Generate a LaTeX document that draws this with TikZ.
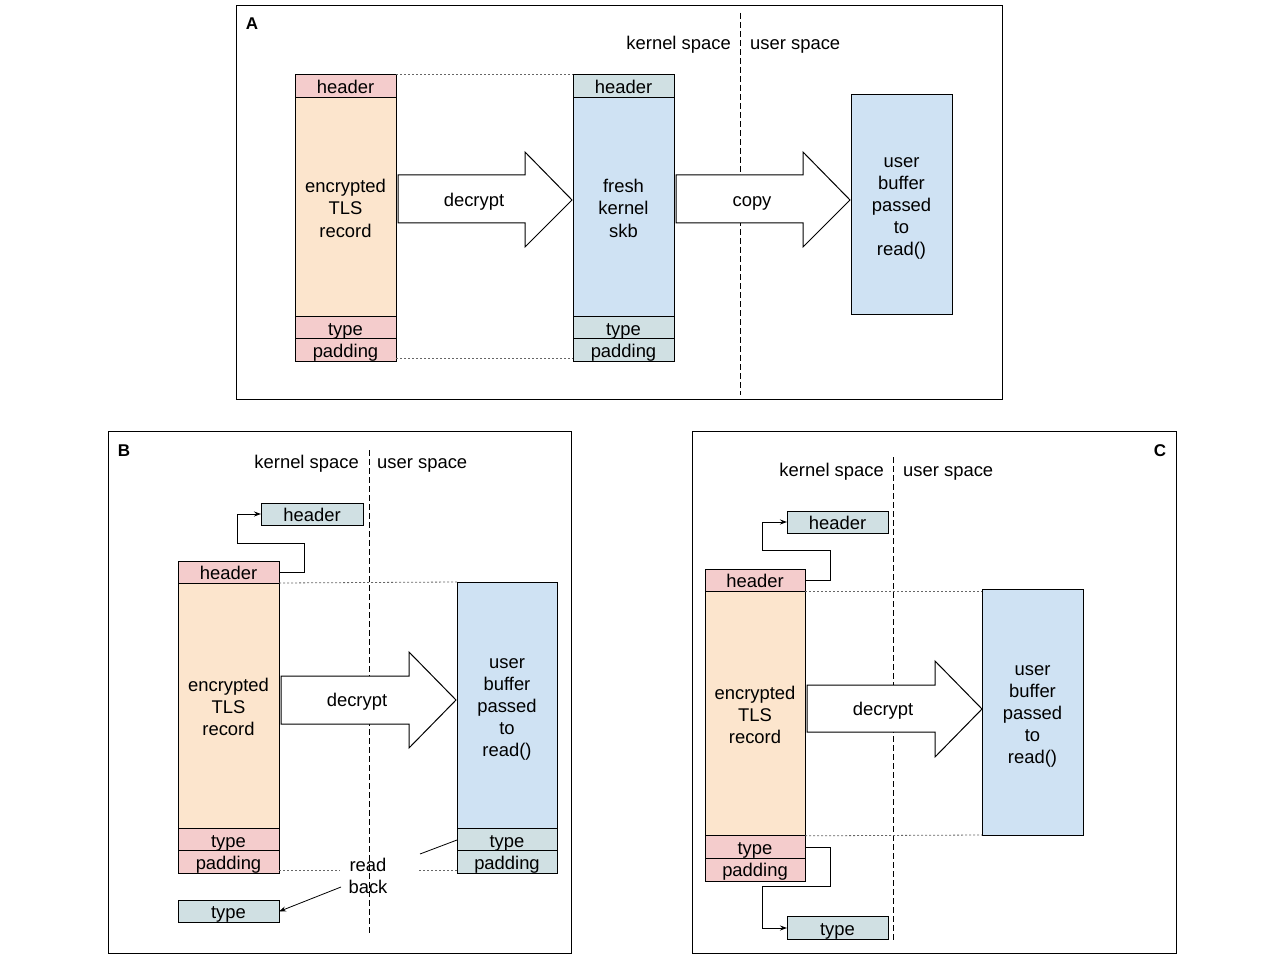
\documentclass[tikz,border=0pt]{standalone}
\usepackage{fontspec}
\setmainfont{Liberation Sans}
\usetikzlibrary{arrows.meta,calc}
\definecolor{hdr}{HTML}{F4CCCC}
\definecolor{rec}{HTML}{FCE5CD}
\definecolor{gry}{HTML}{D0E0E3}
\definecolor{blu}{HTML}{CFE2F3}
\newcommand{\lnstrut}{\rule[-3.5pt]{0pt}{22pt}}
\newcommand{\boxn}[7]{%
  \pgfmathsetmacro\bcx{(#3+#5)/2}\pgfmathsetmacro\bcy{(#4+#6)/2}%
  \pgfmathsetmacro\bw{#5-#3}\pgfmathsetmacro\bh{#6-#4}%
  \node[#2, minimum width=\bw pt, minimum height=\bh pt] (#1) at (\bcx,\bcy) {#7};}
\begin{document}
\begin{tikzpicture}[x=1pt,y=-1pt,
  font=\fontsize{18.4}{22}\selectfont,
  txt/.style={execute at begin node={\lnstrut}, execute at end node={\lnstrut}},
  cell/.style={txt, draw, line width=1pt, inner sep=0pt, outer sep=0pt, align=center},
  frame/.style={draw, line width=0.9pt},
  sep/.style={dash pattern=on 6pt off 3pt, line width=0.9pt},
  dotline/.style={dash pattern=on 2pt off 2pt, black!60, line width=0.8pt},
  conn/.style={line width=1pt, -{Stealth[length=7pt,width=5pt]}},
  bigarrow/.style={draw, fill=white, line width=1pt},
  lbl/.style={txt, inner sep=0pt},
  plabel/.style={inner sep=0pt, font=\bfseries\fontsize{17}{20}\selectfont}]
\useasboundingbox (0,0) rectangle (1280,960);

% ---------- Panel A ----------
\draw[frame] (236,5) rectangle (1002,399);
\node[plabel] (la) at (252,24) {A};
\draw[sep] (740,13) -- (740,395);
\node[lbl, anchor=east] (ka) at (731,42.5) {kernel space};
\node[lbl, anchor=west] (ua) at (750,42.5) {user space};

\boxn{Ah}{cell,fill=hdr}{295}{75}{396}{98}{header}
\boxn{Ar}{cell,fill=rec}{295}{98}{396}{317}{\lnstrut encrypted\\TLS\\record}
\boxn{At}{cell,fill=hdr}{295}{317}{396}{339}{type}
\boxn{Ap}{cell,fill=hdr}{295}{339}{396}{361}{padding}

\boxn{Bh}{cell,fill=gry}{573}{75}{674}{98}{header}
\boxn{Bs}{cell,fill=blu}{573}{98}{674}{317}{\lnstrut fresh\\kernel\\skb}
\boxn{Bt}{cell,fill=gry}{573}{317}{674}{339}{type}
\boxn{Bp}{cell,fill=gry}{573}{339}{674}{361}{padding}

\boxn{Au}{cell,fill=blu}{851}{95}{952}{314}{\lnstrut user\\buffer\\passed\\to\\read()}

\draw[bigarrow] (398,175) -- (525,175) -- (525,152) -- (572,200) -- (525,247) -- (525,223) -- (398,223) -- cycle;
\node[lbl] (da) at (474,199) {decrypt};
\draw[bigarrow] (676,175) -- (803,175) -- (803,152) -- (850,200) -- (803,247) -- (803,223) -- (676,223) -- cycle;
\node[lbl] (ca) at (752,199) {copy};

\draw[dotline] ([yshift=1pt]Ah.north east) -- ([yshift=1pt]Bh.north west);
\draw[dotline] ([yshift=3pt]Ap.south east) -- ([yshift=3pt]Bp.south west);

% ---------- Panel B ----------
\draw[frame] (108,431) rectangle (571,953);
\node[plabel] (lb) at (124,451) {B};
\draw[sep] (369,450) -- (369,935);
\node[lbl, anchor=east] (kb) at (359,461.5) {kernel space};
\node[lbl, anchor=west] (ub) at (377,461.5) {user space};

\boxn{BSh}{cell,fill=gry}{261}{503}{363}{525}{header}
\boxn{BLh}{cell,fill=hdr}{178}{561}{279}{583}{header}
\boxn{BLr}{cell,fill=rec}{178}{583}{279}{829}{\lnstrut encrypted\\TLS\\record}
\boxn{BLt}{cell,fill=hdr}{178}{829}{279}{851}{type}
\boxn{BLp}{cell,fill=hdr}{178}{851}{279}{873}{padding}

\boxn{BUb}{cell,fill=blu}{457}{582}{557}{829}{\lnstrut user\\buffer\\passed\\to\\read()}
\boxn{BUt}{cell,fill=gry}{457}{829}{557}{851}{type}
\boxn{BUp}{cell,fill=gry}{457}{851}{557}{873}{padding}

\boxn{BTy}{cell,fill=gry}{178}{901}{279}{922}{type}

\draw[bigarrow] (281,676) -- (409,676) -- (409,652) -- (456,700) -- (409,748) -- (409,724) -- (281,724) -- cycle;
\node[lbl] (db) at (357,699.5) {decrypt};

\draw[conn] (BLh.east) -- ++(25,0) -- ++(0,-29) -| ([xshift=-24pt]BSh.west) -- (BSh.west);
\draw[dotline] (BLh.south east) -- (BUb.north west);

\node[lbl, align=center] (rb) at (368,875) {\lnstrut read\\back};
\draw[dotline] ([yshift=3pt]BLp.south east) -- ++(61,0);
\draw[dotline] ([yshift=3pt]BUp.south west) -- ++(-39,0);
\coordinate (rbt) at (420,854);
\coordinate (rbs) at (341,887);
\draw[line width=0.8pt] (BUt.west) -- (rbt);
\draw[conn, line width=0.8pt] (rbs) -- (BTy.east);

% ---------- Panel C ----------
\draw[frame] (692,431) rectangle (1176,953);
\node[plabel] (lc) at (1160,451) {C};
\draw[sep] (893,457) -- (893,942);
\node[lbl, anchor=east] (kc) at (884,469.5) {kernel space};
\node[lbl, anchor=west] (uc) at (903,469.5) {user space};

\boxn{CSh}{cell,fill=gry}{787}{511}{888}{533}{header}
\boxn{CLh}{cell,fill=hdr}{705}{569}{805}{591}{header}
\boxn{CLr}{cell,fill=rec}{705}{591}{805}{836}{\lnstrut encrypted\\TLS\\record}
\boxn{CLt}{cell,fill=hdr}{705}{836}{805}{858}{type}
\boxn{CLp}{cell,fill=hdr}{705}{858}{805}{881}{padding}

\boxn{CUb}{cell,fill=blu}{982}{589}{1083}{835}{\lnstrut user\\buffer\\passed\\to\\read()}
\boxn{CTy}{cell,fill=gry}{787}{917}{888}{939}{type}

\draw[bigarrow] (807,685) -- (935,685) -- (935,661) -- (982,709) -- (935,757) -- (935,732) -- (807,732) -- cycle;
\node[lbl] (dc) at (883,708) {decrypt};

\draw[conn] (CLh.east) -- ++(25,0) -- ++(0,-30) -| ([xshift=-25pt]CSh.west) -- (CSh.west);
\draw[conn] (CLt.east) -- ++(25,0) -- ++(0,39) -| ([xshift=-25pt]CTy.west) -- (CTy.west);
\draw[dotline] (CLh.south east) -- (CUb.north west |- CLh.south east);
\draw[dotline] (CLt.north east) -- (CUb.south west);
\end{tikzpicture}
\end{document}
